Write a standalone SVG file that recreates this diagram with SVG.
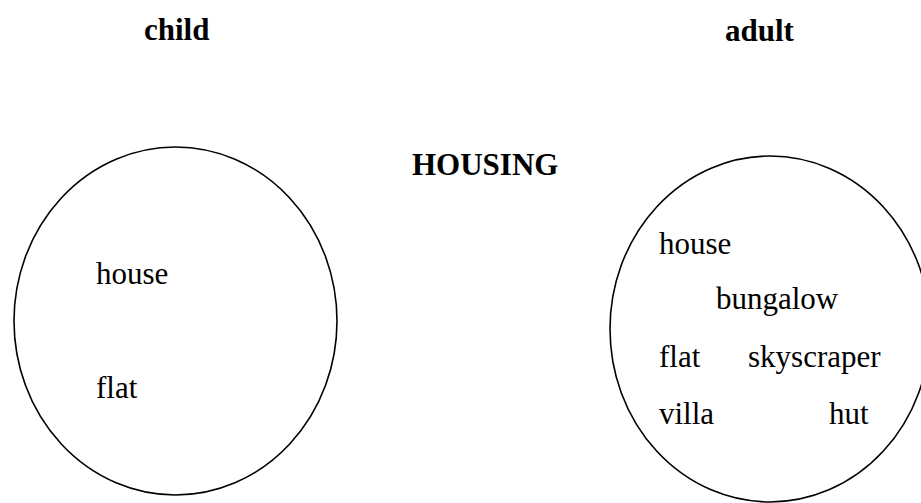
<svg xmlns="http://www.w3.org/2000/svg" width="921" height="503" viewBox="0 0 921 503">
<style>
.t{font-family:"Liberation Serif","Times New Roman",serif;font-size:31px;fill:#000}
.b{font-weight:bold}
.e{fill:none;stroke:#000;stroke-width:1.6}
</style>
<rect width="921" height="503" fill="#fff"/>
<g id="child">
<text class="t b" x="144" y="40">child</text>
<ellipse class="e" cx="175.5" cy="321" rx="161.5" ry="174"/>
<text class="t" x="96" y="284">house</text>
<text class="t" x="96" y="398">flat</text>
</g>
<g id="title"><text class="t b" x="412" y="175">HOUSING</text></g>
<g id="adult">
<text class="t b" x="725" y="41">adult</text>
<ellipse class="e" cx="770" cy="329" rx="160" ry="173"/>
<text class="t" x="659" y="254">house</text>
<text class="t" x="716" y="309">bungalow</text>
<text class="t" x="659" y="367">flat</text>
<text class="t" x="748" y="367">skyscraper</text>
<text class="t" x="659" y="424">villa</text>
<text class="t" x="829" y="424">hut</text>
</g>
<g id="connectors"/>
</svg>
